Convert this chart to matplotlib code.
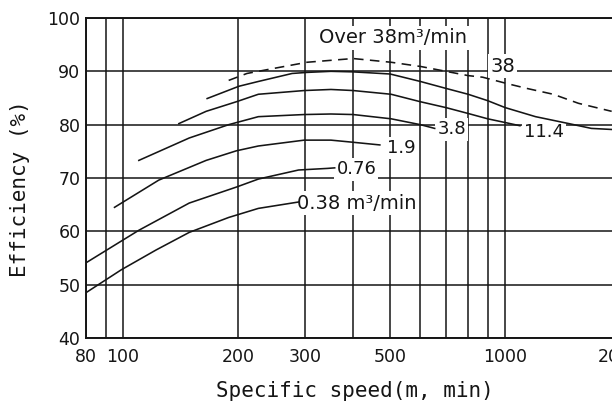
import matplotlib
matplotlib.use("Agg")
import matplotlib.pyplot as plt
from matplotlib.ticker import FixedLocator, FixedFormatter, NullFormatter

# ---- data ----
ns_over38 = [189, 211, 246, 303, 400, 503, 602, 700, 800, 873, 1012, 1139, 1336, 1556, 1900]
eff_over38 = [88.3, 89.6, 90.5, 91.7, 92.4, 91.7, 90.9, 90.0, 89.2, 88.9, 87.7, 86.8, 85.7, 84.0, 82.5]

ns_38 = [166, 201, 226, 277, 303, 350, 400, 500, 600, 700, 800, 900, 1000, 1201, 1468, 1681, 1900]
eff_38 = [84.9, 87.2, 88.1, 89.6, 89.8, 90.0, 89.9, 89.5, 88.1, 86.8, 85.7, 84.5, 83.2, 81.5, 80.2, 79.3, 79.1]

ns_11_4 = [140, 165, 198, 226, 298, 350, 400, 503, 600, 700, 800, 900, 1000, 1093]
eff_11_4 = [80.2, 82.5, 84.3, 85.7, 86.4, 86.6, 86.4, 85.7, 84.3, 83.2, 82.1, 81.1, 80.4, 79.8]

ns_3_8 = [110, 149, 189, 226, 298, 350, 400, 503, 600, 654]
eff_3_8 = [73.3, 77.5, 80.0, 81.5, 81.9, 82.0, 81.9, 81.1, 80.0, 79.3]

ns_1_9 = [95, 124, 165, 198, 226, 298, 350, 400, 470]
eff_1_9 = [64.5, 69.6, 73.3, 75.1, 76.0, 77.1, 77.1, 76.7, 76.2]

ns_0_76 = [80, 110, 149, 198, 226, 288, 343, 358]
eff_0_76 = [54.1, 60.2, 65.3, 68.3, 69.8, 71.5, 71.8, 71.9]

ns_0_38 = [80, 99, 122, 149, 189, 226, 288]
eff_0_38 = [48.5, 52.8, 56.5, 59.8, 62.6, 64.3, 65.5]

x_major = [80, 100, 200, 300, 500, 1000, 2000]
x_major_labels = ["80", "100", "200", "300", "500", "1000", "2000"]
x_minor = [90, 400, 600, 700, 800, 900]
y_ticks = [40, 50, 60, 70, 80, 90, 100]

# curve labels: (text, x, y, fontsize)
curve_labels = [
    ("Over 38m³/min", 509, 96.3, 14),
    ("38", 984, 91.0, 14),
    ("11.4", 1266, 78.7, 13),
    ("3.8", 725, 79.1, 13),
    ("1.9", 535, 75.6, 13),
    ("0.76", 408, 71.6, 13),
    ("0.38 m³/min", 409, 65.3, 14),
]

# ---- figure ----
W, H = 612, 403
fig = plt.figure(figsize=(W / 100, H / 100), dpi=100)
left_px, right_px, top_px, bot_px = 86, 636, 18, 338
ax = fig.add_axes([left_px / W, (H - bot_px) / H, (right_px - left_px) / W, (bot_px - top_px) / H])
ax.set_xscale("log")
ax.set_xlim(80, 2200)
ax.set_ylim(40, 100)

ink = "#151515"
lw = 1.15

ax.plot(ns_over38, eff_over38, color=ink, lw=lw, ls=(0, (6, 4)), zorder=4)
for xs, ys in [(ns_38, eff_38), (ns_11_4, eff_11_4), (ns_3_8, eff_3_8),
               (ns_1_9, eff_1_9), (ns_0_76, eff_0_76), (ns_0_38, eff_0_38)]:
    ax.plot(xs, ys, color=ink, lw=lw, zorder=4)

for txt, x, y, fs in curve_labels:
    ax.text(x, y, txt, ha="center", va="center", fontsize=fs, color=ink,
            family="DejaVu Sans", zorder=3,
            bbox=dict(boxstyle="square,pad=0.12", fc="white", ec="none"))

ax.xaxis.set_major_locator(FixedLocator(x_major))
ax.xaxis.set_major_formatter(FixedFormatter(x_major_labels))
ax.xaxis.set_minor_locator(FixedLocator(x_minor))
ax.xaxis.set_minor_formatter(NullFormatter())
ax.set_yticks(y_ticks)
ax.set_yticklabels([str(v) for v in y_ticks])

ax.set_axisbelow(True)
ax.grid(True, which="both", color=ink, lw=1.1)
ax.tick_params(which="both", length=0, labelsize=12.5, colors=ink)
ax.tick_params(axis="x", pad=7)
ax.tick_params(axis="y", pad=4)
for s in ax.spines.values():
    s.set_color(ink)
    s.set_linewidth(1.4)

ax.set_xlabel("Specific speed(m, min)", fontsize=15, family="DejaVu Sans Mono",
              color=ink, va="center")
ax.xaxis.set_label_coords((355 - left_px) / (right_px - left_px), -(389 - bot_px) / (bot_px - top_px) - 0.005)
ax.set_ylabel("Efficiency (%)", fontsize=15, family="DejaVu Sans Mono",
              color=ink, va="center")
ax.yaxis.set_label_coords(-(left_px - 20) / (right_px - left_px), (bot_px - 189) / (bot_px - top_px))

fig.savefig("out.png", dpi=100)
